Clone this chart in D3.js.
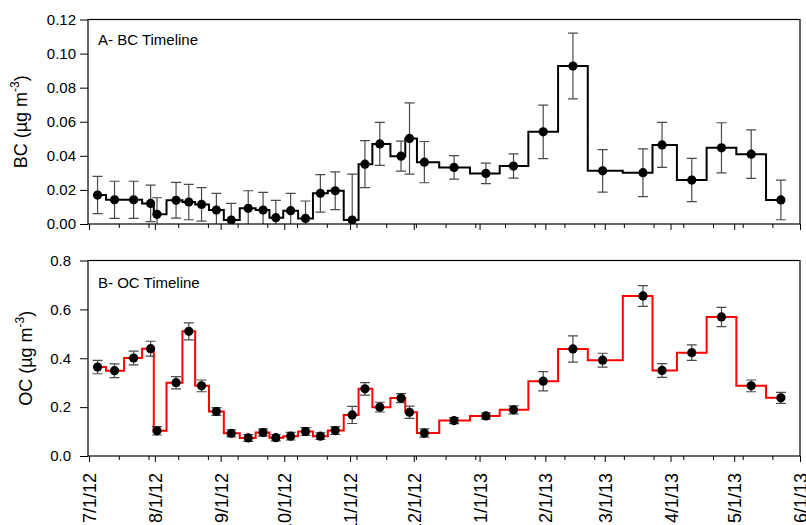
<!DOCTYPE html>
<html>
<head>
<meta charset="utf-8">
<script src="https://cdn.jsdelivr.net/npm/d3@7"></script>
<style>
  body { margin: 0; background: #fff; }
  svg { display: block; font-family: "Liberation Sans", Arial, sans-serif; }
</style>
</head>
<body>
<svg id="chart" width="806" height="525"></svg>
<script>
// ---- data ----
const sampleDates = [
  "2012-07-05","2012-07-13","2012-07-22","2012-07-30","2012-08-02","2012-08-11","2012-08-17",
  "2012-08-23","2012-08-30","2012-09-06","2012-09-14","2012-09-21","2012-09-27","2012-10-04",
  "2012-10-11","2012-10-18","2012-10-25","2012-11-02","2012-11-08","2012-11-15","2012-11-25",
  "2012-11-29","2012-12-06","2012-12-20","2013-01-04","2013-01-17","2013-01-31","2013-02-14",
  "2013-02-28","2013-03-19","2013-03-28","2013-04-11","2013-04-25","2013-05-09","2013-05-23"
];
const bcValues = [
  0.0170,0.0142,0.0142,0.0121,0.0057,0.0139,0.0129,0.0115,0.0082,0.0023,0.0092,0.0082,
  0.0037,0.0078,0.0033,0.0180,0.0195,0.0023,0.0351,0.0470,0.0398,0.0502,0.0363,0.0332,
  0.0297,0.0340,0.0541,0.0927,0.0312,0.0301,0.0464,0.0258,0.0447,0.0410,0.0141
];
const bcErrors = [
  0.0109,0.0109,0.0109,0.0107,0.0097,0.0105,0.0104,0.0098,0.0098,0.0098,0.0103,0.0103,
  0.0102,0.0102,0.0102,0.0110,0.0111,0.0270,0.0138,0.0126,0.0088,0.0209,0.0121,0.0069,
  0.0060,0.0071,0.0157,0.0193,0.0125,0.0140,0.0132,0.0127,0.0147,0.0142,0.0116
];
const ocValues = [
  0.364,0.349,0.401,0.439,0.103,0.300,0.510,0.287,0.182,0.093,0.074,0.096,0.075,0.081,
  0.100,0.081,0.104,0.168,0.275,0.200,0.237,0.179,0.094,0.145,0.164,0.189,0.306,0.438,
  0.392,0.655,0.350,0.423,0.569,0.287,0.238
];
const ocErrors = [
  0.0275,0.028,0.028,0.0305,0.017,0.025,0.035,0.024,0.016,0.0145,0.014,0.015,0.013,0.0155,
  0.016,0.0135,0.016,0.035,0.0255,0.020,0.0185,0.025,0.017,0.0125,0.013,0.0165,0.0395,0.0535,
  0.0285,0.0425,0.028,0.0315,0.0395,0.024,0.0225
];
const bcTicks = [0, 0.02, 0.04, 0.06, 0.08, 0.10, 0.12];
const ocTicks = [0, 0.2, 0.4, 0.6, 0.8];
const monthLabels = ["7/1/12","8/1/12","9/1/12","10/1/12","11/1/12","12/1/12",
                     "1/1/13","2/1/13","3/1/13","4/1/13","5/1/13","6/1/13"];

// ---- setup ----
const parseDate = d3.timeParse("%Y-%m-%d");
const parseLabel = d3.timeParse("%m/%d/%y");
const dates = sampleDates.map(parseDate);
const monthDates = monthLabels.map(parseLabel);
const labelOf = new Map(monthDates.map((d, i) => [+d, monthLabels[i]]));
const minorDates = d3.timeDay.range(new Date(2012, 6, 1), new Date(2013, 5, 2), 14);

const svg = d3.select("#chart");
const x = d3.scaleTime()
  .domain([new Date(2012, 5, 30, 12), new Date(2013, 5, 1)])
  .range([88, 800]);

function panel(opts) {
  const { values, errors, ticks, yMax, top, bottom, fmt, color, title, titleY,
          ylabel, ylabelX, labelPad, showLabels, clipId } = opts;
  const y = d3.scaleLinear().domain([0, yMax]).range([bottom, top]);
  const g = svg.append("g");

  g.append("defs").append("clipPath").attr("id", clipId)
    .append("rect").attr("x", x.range()[0]).attr("y", top)
    .attr("width", x.range()[1] - x.range()[0]).attr("height", bottom - top);

  const plot = g.append("g").attr("clip-path", `url(#${clipId})`);
  const pts = dates.map((d, i) => ({ d, v: values[i], e: errors[i] }));

  // step line
  plot.append("path")
    .datum(pts)
    .attr("fill", "none")
    .attr("stroke", color)
    .attr("stroke-width", 2)
    .attr("d", d3.line().curve(d3.curveStep).x(p => x(p.d)).y(p => y(p.v)));

  // error bars
  const eb = plot.append("g").attr("stroke", "#4a4a4a").attr("stroke-width", 1.2);
  eb.selectAll("line.stem").data(pts).join("line").attr("class", "stem")
    .attr("x1", p => x(p.d)).attr("x2", p => x(p.d))
    .attr("y1", p => y(p.v + p.e)).attr("y2", p => y(p.v - p.e));
  eb.selectAll("line.capT").data(pts).join("line").attr("class", "capT")
    .attr("x1", p => x(p.d) - 5).attr("x2", p => x(p.d) + 5)
    .attr("y1", p => y(p.v + p.e)).attr("y2", p => y(p.v + p.e));
  eb.selectAll("line.capB").data(pts).join("line").attr("class", "capB")
    .attr("x1", p => x(p.d) - 5).attr("x2", p => x(p.d) + 5)
    .attr("y1", p => y(p.v - p.e)).attr("y2", p => y(p.v - p.e));

  // dots
  plot.selectAll("circle").data(pts).join("circle")
    .attr("cx", p => x(p.d)).attr("cy", p => y(p.v)).attr("r", 4.6)
    .attr("fill", "#000");

  // frame
  g.append("rect").attr("x", x.range()[0]).attr("y", top)
    .attr("width", x.range()[1] - x.range()[0]).attr("height", bottom - top)
    .attr("fill", "none").attr("stroke", "#000").attr("stroke-width", 1.2);

  // y axis
  const ya = g.append("g").attr("transform", `translate(${x.range()[0]},0)`)
    .call(d3.axisLeft(y).tickValues(ticks).tickFormat(d3.format(fmt))
      .tickSize(8).tickSizeOuter(0).tickPadding(labelPad));
  ya.select(".domain").remove();
  ya.selectAll("text").attr("font-size", 15).attr("fill", "#000")
    .attr("font-family", '"Liberation Sans", Arial, sans-serif');
  ya.selectAll("line").attr("stroke", "#000");

  // x axis minor
  const xm = g.append("g").attr("transform", `translate(0,${bottom})`)
    .call(d3.axisBottom(x).tickValues(minorDates).tickSize(4).tickFormat(""));
  xm.select(".domain").remove();
  xm.selectAll("line").attr("stroke", "#000");

  // x axis major
  const xa = g.append("g").attr("transform", `translate(0,${bottom})`)
    .call(d3.axisBottom(x).tickValues(monthDates).tickSize(6)
      .tickFormat(d => showLabels ? labelOf.get(+d) : ""));
  xa.select(".domain").remove();
  xa.selectAll("line").attr("stroke", "#000");
  if (showLabels) {
    xa.selectAll("text")
      .attr("transform", "rotate(-90)")
      .attr("text-anchor", "end")
      .attr("x", -17).attr("y", 0).attr("dy", "0.36em")
      .attr("font-size", 18).attr("fill", "#000")
      .attr("font-family", '"Liberation Sans", Arial, sans-serif');
  }

  // panel title
  g.append("text").attr("x", 98).attr("y", titleY)
    .attr("font-size", 15).attr("fill", "#000").text(title);

  // y label
  const yl = g.append("text")
    .attr("transform", `translate(${ylabelX},${(top + bottom) / 2}) rotate(-90)`)
    .attr("text-anchor", "middle").attr("font-size", 18).attr("fill", "#000");
  yl.append("tspan").text(ylabel + " (µg m");
  yl.append("tspan").attr("font-size", 12).attr("dy", -8).text("-3");
  yl.append("tspan").attr("dy", 8).text(")");
}

panel({
  values: bcValues, errors: bcErrors, ticks: bcTicks, yMax: 0.12,
  top: 19.5, bottom: 224, fmt: ".2f", color: "#000",
  title: "A- BC Timeline", titleY: 45, ylabel: "BC", ylabelX: 27,
  labelPad: 4, showLabels: false, clipId: "clipA"
});
panel({
  values: ocValues, errors: ocErrors, ticks: ocTicks, yMax: 0.8,
  top: 260.5, bottom: 456, fmt: ".1f", color: "#ff0000",
  title: "B- OC Timeline", titleY: 288, ylabel: "OC", ylabelX: 32,
  labelPad: 9, showLabels: true, clipId: "clipB"
});
</script>
</body>
</html>
